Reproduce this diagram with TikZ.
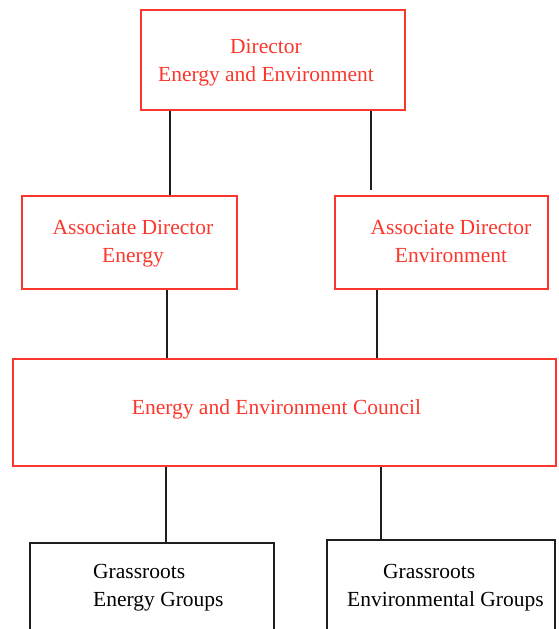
\documentclass[tikz,border=0pt]{standalone}
\usepackage{fontspec}
\setmainfont{Liberation Serif}
\usetikzlibrary{positioning,calc}
\definecolor{chartred}{RGB}{250,55,45}
\definecolor{chartblack}{RGB}{30,30,30}

\begin{document}
\begin{tikzpicture}[x=1pt, y=-1pt, every node/.style={font=\fontsize{21.5}{28}\selectfont, inner sep=0pt}]
    \tikzset{
        redbox/.style={draw=chartred, line width=1.8pt},
        blackbox/.style={draw=chartblack, line width=2pt},
        redtext/.style={text=chartred, align=center},
        link/.style={draw=chartblack, line width=2pt}
    }
    \useasboundingbox (0,0) rectangle (558,629);
    \clip (0,0) rectangle (558,629);

    % Director
    \node[redbox, minimum width=264, minimum height=100] (dir) at (273, 60) {};
    \node[redtext] (dirt) at (266, 63) {Director\\Energy and Environment};

    % Associate Directors
    \node[redbox, minimum width=215, minimum height=93] (ae) at (129.5, 242.5) {};
    \node[redtext] (aet) at (133, 244) {Associate Director\\Energy};
    \node[redbox, minimum width=213, minimum height=93] (av) at (441.5, 242.5) {};
    \node[redtext] (avt) at (451, 241.6) {Associate Director\\Environment};

    % Council
    \node[redbox, minimum width=543, minimum height=107] (cn) at (284.5, 412.5) {};
    \node[redtext] (cnt) at (276.5, 409) {Energy and Environment Council};

    % Grassroots groups (cut off at the bottom)
    \node[blackbox, minimum width=244, minimum height=160] (ge) at (152, 623) {};
    \node[anchor=west, align=left] (get) at (93, 588) {Grassroots\\Energy Groups};
    \node[blackbox, minimum width=228, minimum height=160] (gv) at (441, 620) {};
    \node[anchor=west, align=left] (gvt) at (347, 588) {\hspace*{36pt}Grassroots\\Environmental Groups};

    % Connectors
    \coordinate (x1) at (170, 0);
    \coordinate (x2) at (371, 0);
    \coordinate (x3) at (167, 0);
    \coordinate (x4) at (377, 0);
    \coordinate (x5) at (166, 0);
    \coordinate (x6) at (381, 0);
    \draw[link] (dir.south -| x1) -- (ae.north -| x1);
    \draw[link, shorten >=5pt] (dir.south -| x2) -- (av.north -| x2);
    \draw[link] (ae.south -| x3) -- (cn.north -| x3);
    \draw[link] (av.south -| x4) -- (cn.north -| x4);
    \draw[link] (cn.south -| x5) -- (ge.north -| x5);
    \draw[link] (cn.south -| x6) -- (gv.north -| x6);
\end{tikzpicture}
\end{document}
